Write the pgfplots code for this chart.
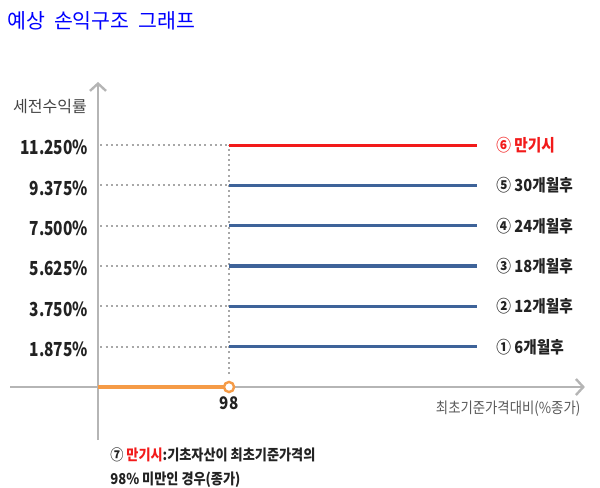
\documentclass[border=0pt]{standalone}
\usepackage{fontspec}
\setmainfont{Noto Sans CJK KR}
\newfontfamily\narrow{Noto Sans CJK KR}[FakeStretch=0.88]
\newfontfamily\tickfont{Noto Sans CJK KR}[FakeStretch=0.8]
\usepackage{pgfplots}
\pgfplotsset{compat=1.18}
\usetikzlibrary{arrows.meta}

\definecolor{titleblue}{HTML}{0000FF}
\definecolor{payred}{HTML}{F21A1A}
\definecolor{payblue}{HTML}{3E6399}
\definecolor{payorange}{HTML}{F59B47}
\definecolor{axisgray}{HTML}{B5B5B5}
\definecolor{dotgray}{HTML}{A8A8A8}
\definecolor{txt}{HTML}{222222}

\begin{document}
\begin{tikzpicture}
\path[use as bounding box] (0,0) rectangle (450pt,-365.25pt);

% title and y label
\node[anchor=west, text=titleblue, inner sep=0,
  font=\fontsize{15.4pt}{17pt}\selectfont] at (5.5pt,-15.5pt)
  {예상\hspace{6.5pt}손익구조\hspace{6.5pt}그래프};
\node[text=txt!85, inner sep=0, font=\fontsize{12pt}{14pt}\selectfont]
  at (37.5pt,-80pt) {세전수익률};

\begin{axis}[
  at={(73.5pt,-290.25pt)}, anchor=origin,
  x=1.0027pt, y=16.125pt,
  xmin=-65.8, xmax=364.2, ymin=-2.47, ymax=14.19,
  axis lines=middle, clip=false,
  axis line style={line width=2.2pt, axisgray},
  every inner x axis line/.append style={-{Straight Barb[length=5.5pt,width=12pt,line width=1.8pt]}},
  every inner y axis line/.append style={-{Straight Barb[length=5.5pt,width=12pt,line width=1.8pt]}},
  xtick={98}, xticklabels={98},
  ytick={1.875,3.75,5.625,7.5,9.375,11.25},
  yticklabels={1.875\%,3.750\%,5.625\%,7.500\%,9.375\%,11.250\%},
  major tick length=0pt,
  tick style={draw=none},
  yticklabel style={font=\tickfont\bfseries\fontsize{14.5pt}{16pt}\selectfont, text=txt, xshift=-4pt, yshift=-2pt},
  xticklabel style={font=\narrow\bfseries\fontsize{13pt}{15pt}\selectfont, text=txt, yshift=-4pt},
]

% reference dots
\addplot[dotgray, line width=1.5pt, dash pattern=on 1.5pt off 2.4pt] coordinates {(1.8,11.25) (98,11.25)};
\addplot[dotgray, line width=1.5pt, dash pattern=on 1.5pt off 2.4pt] coordinates {(1.8,9.375) (98,9.375)};
\addplot[dotgray, line width=1.5pt, dash pattern=on 1.5pt off 2.4pt] coordinates {(1.8,7.5) (98,7.5)};
\addplot[dotgray, line width=1.5pt, dash pattern=on 1.5pt off 2.4pt] coordinates {(1.8,5.625) (98,5.625)};
\addplot[dotgray, line width=1.5pt, dash pattern=on 1.5pt off 2.4pt] coordinates {(1.8,3.75) (98,3.75)};
\addplot[dotgray, line width=1.5pt, dash pattern=on 1.5pt off 2.4pt] coordinates {(1.8,1.875) (98,1.875)};
\addplot[dotgray, line width=1.5pt, dash pattern=on 1.5pt off 2.4pt] coordinates {(98,0.6) (98,11.25)};

% payoff lines
\addplot[payred, line width=2.4pt] coordinates {(98,11.25) (283.5,11.25)}
  node[pos=1, anchor=west, xshift=10pt, text=payred, font=\narrow\bfseries\fontsize{12.5pt}{14pt}\selectfont] {⑥ 만기시};
\addplot[payblue, line width=2.4pt] coordinates {(98,9.375) (283.5,9.375)}
  node[pos=1, anchor=west, xshift=10pt, text=txt, font=\narrow\bfseries\fontsize{12.5pt}{14pt}\selectfont] {⑤ 30개월후};
\addplot[payblue, line width=2.4pt] coordinates {(98,7.5) (283.5,7.5)}
  node[pos=1, anchor=west, xshift=10pt, text=txt, font=\narrow\bfseries\fontsize{12.5pt}{14pt}\selectfont] {④ 24개월후};
\addplot[payblue, line width=2.4pt] coordinates {(98,5.625) (283.5,5.625)}
  node[pos=1, anchor=west, xshift=10pt, text=txt, font=\narrow\bfseries\fontsize{12.5pt}{14pt}\selectfont] {③ 18개월후};
\addplot[payblue, line width=2.4pt] coordinates {(98,3.75) (283.5,3.75)}
  node[pos=1, anchor=west, xshift=10pt, text=txt, font=\narrow\bfseries\fontsize{12.5pt}{14pt}\selectfont] {② 12개월후};
\addplot[payblue, line width=2.4pt] coordinates {(98,1.875) (283.5,1.875)}
  node[pos=1, anchor=west, xshift=10pt, text=txt, font=\narrow\bfseries\fontsize{12.5pt}{14pt}\selectfont] {① 6개월후};

\addplot[payorange, line width=2.4pt] coordinates {(0,0) (98,0)};
\addplot[only marks, mark=*, mark size=3.8pt,
  mark options={fill=white, draw=payorange, line width=1.8pt}] coordinates {(98,0)};

\node[anchor=east, text=txt!75, inner sep=0,
  font=\narrow\fontsize{11.4pt}{13pt}\selectfont] at (axis cs:361,-1.0)
  {최초기준가격대비(\%종가)};
\end{axis}

% note under the chart
\node[anchor=west, inner sep=0, text=txt, font=\narrow\bfseries\fontsize{11.2pt}{13pt}\selectfont]
  at (82.5pt,-341.25pt) {⑦ \textcolor{payred}{만기시}:기초자산이 최초기준가격의};
\node[anchor=west, inner sep=0, text=txt, font=\narrow\bfseries\fontsize{11.2pt}{13pt}\selectfont]
  at (82.5pt,-359.5pt) {98\% 미만인 경우(종가)};
\end{tikzpicture}
\end{document}
